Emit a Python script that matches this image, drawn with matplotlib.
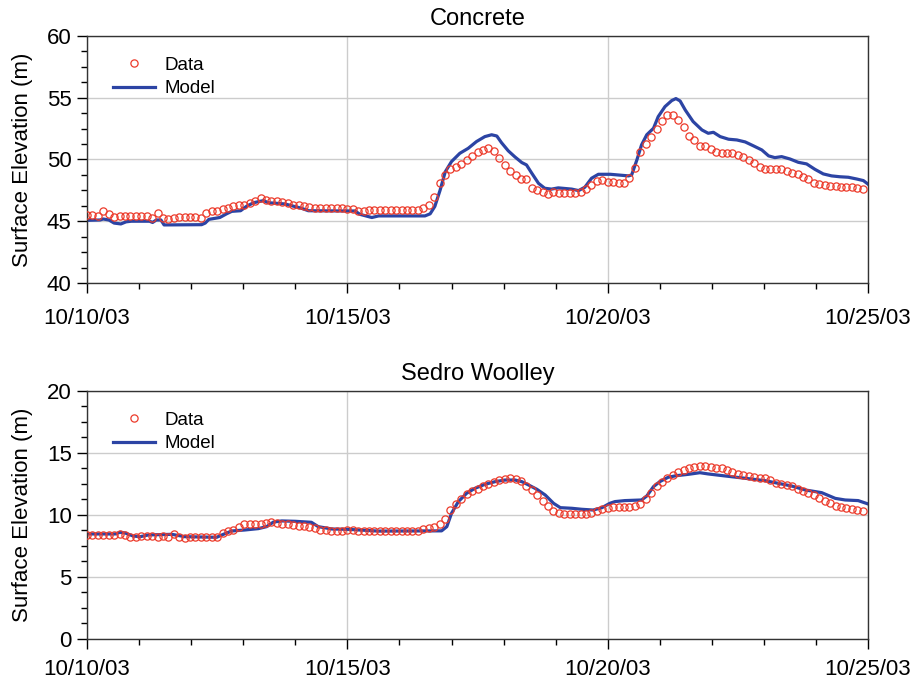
import numpy as np
import pandas as pd
import matplotlib
matplotlib.use("Agg")
import matplotlib.pyplot as plt
import matplotlib.dates as mdates
from matplotlib.ticker import MultipleLocator

plt.rcParams["font.family"] = ["Liberation Sans", "DejaVu Sans"]

# observed stage, one reading every 2.5 hours from 10/10/03 00:00
concrete_data = [
    45.5, 45.5, 45.45, 45.8, 45.55, 45.35, 45.4, 45.45, 45.45, 45.45,
    45.4, 45.4, 45.3, 45.7, 45.3, 45.2, 45.3, 45.35, 45.35, 45.35,
    45.35, 45.3, 45.7, 45.8, 45.85, 45.95, 46.1, 46.25, 46.3, 46.3,
    46.45, 46.6, 46.85, 46.7, 46.65, 46.65, 46.55, 46.45, 46.35, 46.3,
    46.25, 46.15, 46.1, 46.1, 46.1, 46.1, 46.1, 46.05, 46.0, 46.0,
    45.86, 45.86, 45.9, 45.94, 45.94, 45.94, 45.94, 45.94, 45.94, 45.94,
    45.94, 45.94, 46.05, 46.35, 46.94, 48.07, 48.75, 49.2, 49.4, 49.6,
    49.96, 50.3, 50.6, 50.8, 50.9, 50.7, 50.15, 49.56, 49.1, 48.75,
    48.4, 48.4, 47.7, 47.53, 47.37, 47.2, 47.35, 47.3, 47.3, 47.3,
    47.3, 47.4, 47.6, 47.9, 48.26, 48.34, 48.2, 48.15, 48.07, 48.1,
    48.5, 49.3, 50.64, 51.23, 51.85, 52.45, 53.15, 53.6, 53.63, 53.2,
    52.6, 51.93, 51.58, 51.07, 51.07, 50.85, 50.64, 50.5, 50.55, 50.5,
    50.37, 50.18, 49.96, 49.69, 49.37, 49.2, 49.2, 49.26, 49.2, 49.1,
    48.94, 48.8, 48.56, 48.4, 48.13, 48.02, 47.94, 47.88, 47.83, 47.8,
    47.8, 47.78, 47.7, 47.6,
]

sedro_data = [
    8.36, 8.36, 8.36, 8.36, 8.36, 8.36, 8.45, 8.38, 8.25, 8.25,
    8.28, 8.3, 8.3, 8.25, 8.28, 8.25, 8.45, 8.25, 8.12, 8.22,
    8.25, 8.25, 8.25, 8.25, 8.25, 8.57, 8.68, 8.79, 9.05, 9.25,
    9.27, 9.25, 9.28, 9.33, 9.41, 9.35, 9.3, 9.25, 9.2, 9.15,
    9.1, 9.05, 8.95, 8.82, 8.75, 8.74, 8.74, 8.74, 8.79, 8.75,
    8.72, 8.7, 8.7, 8.7, 8.7, 8.7, 8.7, 8.71, 8.71, 8.72,
    8.72, 8.74, 8.84, 8.95, 9.06, 9.3, 9.7, 10.4, 10.9, 11.3,
    11.7, 11.9, 12.1, 12.3, 12.5, 12.65, 12.8, 12.93, 12.96, 12.92,
    12.75, 12.3, 12.0, 11.6, 11.1, 10.7, 10.35, 10.12, 10.08, 10.08,
    10.08, 10.08, 10.1, 10.2, 10.35, 10.5, 10.58, 10.67, 10.67, 10.67,
    10.67, 10.72, 10.85, 11.25, 11.8, 12.35, 12.65, 12.95, 13.2, 13.45,
    13.62, 13.76, 13.86, 13.95, 13.93, 13.88, 13.82, 13.75, 13.6, 13.45,
    13.34, 13.24, 13.15, 13.1, 13.02, 12.95, 12.8, 12.6, 12.5, 12.4,
    12.3, 12.1, 11.9, 11.78, 11.63, 11.4, 11.15, 10.95, 10.75, 10.65,
    10.55, 10.45, 10.38, 10.33,
]

# model output (days since 10/10/03, stage)
concrete_model_day = [
    0.0, 0.25, 0.31, 0.42, 0.52, 0.65, 0.75, 0.85, 1.2, 1.26,
    1.33, 1.42, 1.48, 2.2, 2.27, 2.34, 2.55, 2.68, 2.78, 2.95,
    3.06, 3.2, 3.39, 3.48, 3.8, 3.98, 4.12, 4.25, 4.95, 5.15,
    5.24, 5.47, 5.6, 6.49, 6.59, 6.68, 6.78, 6.88, 7.0, 7.16,
    7.32, 7.48, 7.64, 7.77, 7.87, 7.96, 8.09, 8.22, 8.35, 8.44,
    8.54, 8.67, 8.79, 8.92, 9.05, 9.31, 9.44, 9.56, 9.69, 9.82,
    10.05, 10.4, 10.46, 10.56, 10.65, 10.75, 10.88, 10.97, 11.1, 11.23,
    11.31, 11.39, 11.49, 11.64, 11.81, 11.93, 12.03, 12.16, 12.32, 12.48,
    12.64, 12.8, 12.96, 13.09, 13.21, 13.34, 13.5, 13.66, 13.82, 13.98,
    14.14, 14.3, 14.46, 14.62, 14.78, 14.91, 15.0,
]
concrete_model = [
    45.07, 45.1, 45.18, 45.1, 44.85, 44.78, 44.95, 45.0, 45.0, 44.9,
    45.1, 45.1, 44.7, 44.72, 44.85, 45.15, 45.3, 45.6, 45.8, 45.85,
    46.2, 46.5, 46.67, 46.5, 46.4, 46.2, 46.05, 45.85, 45.83, 45.83,
    45.56, 45.3, 45.43, 45.43, 45.6, 46.2, 47.5, 49.0, 49.83, 50.5,
    50.9, 51.45, 51.85, 52.0, 51.9, 51.36, 50.7, 50.2, 49.75, 49.56,
    48.9, 48.07, 47.67, 47.6, 47.7, 47.6, 47.48, 47.75, 48.48, 48.8,
    48.8, 48.67, 48.75, 49.96, 51.18, 52.0, 52.53, 53.47, 54.28, 54.77,
    54.93, 54.74, 54.0, 53.07, 52.39, 52.12, 52.2, 51.85, 51.64, 51.58,
    51.42, 51.1, 50.77, 50.29, 50.15, 50.23, 50.04, 49.77, 49.64, 49.2,
    48.83, 48.67, 48.6, 48.56, 48.42, 48.29, 48.0,
]

sedro_model_day = [
    0.0, 0.54, 0.63, 0.73, 0.89, 1.02, 1.18, 1.63, 1.88, 2.49,
    2.59, 2.78, 3.03, 3.29, 3.45, 3.58, 3.74, 4.0, 4.31, 4.44,
    4.7, 5.02, 5.6, 6.81, 6.91, 7.0, 7.13, 7.29, 7.45, 7.64,
    7.84, 8.03, 8.22, 8.35, 8.48, 8.64, 8.8, 8.96, 9.09, 9.31,
    9.5, 9.72, 9.89, 10.04, 10.14, 10.33, 10.65, 10.75, 10.88, 11.0,
    11.16, 11.32, 11.55, 11.77, 11.93, 12.25, 12.64, 13.02, 13.28, 13.53,
    13.79, 14.11, 14.37, 14.56, 14.81, 15.0,
]
sedro_model = [
    8.47, 8.47, 8.6, 8.55, 8.3, 8.25, 8.39, 8.44, 8.25, 8.2,
    8.39, 8.71, 8.79, 8.9, 9.06, 9.43, 9.52, 9.49, 9.41, 9.06,
    8.87, 8.84, 8.7, 8.72, 9.06, 10.13, 11.07, 11.75, 12.15, 12.47,
    12.69, 12.82, 12.82, 12.69, 12.42, 12.07, 11.61, 10.94, 10.59, 10.54,
    10.46, 10.4, 10.59, 10.94, 11.08, 11.16, 11.21, 11.53, 12.29, 12.69,
    13.04, 13.17, 13.28, 13.41, 13.31, 13.15, 12.96, 12.77, 12.55, 12.34,
    12.02, 11.8, 11.34, 11.21, 11.16, 10.89,
]

station_names = ["Concrete", "Sedro Woolley"]
y_limits = [(40, 60), (0, 20)]

start = pd.Timestamp("2003-10-10")
end = pd.Timestamp("2003-10-25")
obs_time = pd.date_range(start, periods=len(concrete_data), freq="150min")

red = "#ec3b2b"
blue = "#2c44a4"

fig = plt.figure(figsize=(9.15, 6.85), dpi=100)
ax_top = fig.add_axes([0.0951, 0.5869, 0.8536, 0.3606])
ax_bot = fig.add_axes([0.0951, 0.0672, 0.8536, 0.3620])

panels = [
    (ax_top, concrete_data, concrete_model_day, concrete_model, 11),
    (ax_bot, sedro_data, sedro_model_day, sedro_model, 7.5),
]

for i, (ax, obs, mday, mval, xpad) in enumerate(panels):
    mtime = start + pd.to_timedelta(mday, unit="D")
    ax.plot(obs_time, obs, "o", ms=5.2, mfc="none", mec=red, mew=0.9,
            label="Data", zorder=3)
    ax.plot(mtime, mval, "-", color=blue, lw=2.3, label="Model", zorder=2)

    ax.set_xlim(start, end)
    ax.set_ylim(*y_limits[i])
    ax.xaxis.set_major_locator(mdates.DayLocator(bymonthday=[10, 15, 20, 25]))
    ax.xaxis.set_minor_locator(mdates.DayLocator())
    ax.xaxis.set_major_formatter(mdates.DateFormatter("%m/%d/%y"))
    ax.yaxis.set_major_locator(MultipleLocator(5))
    ax.yaxis.set_minor_locator(MultipleLocator(1.25))

    ax.grid(True, which="major", color="#cccccc", lw=1)
    ax.set_axisbelow(True)
    ax.tick_params(which="major", length=7, width=1, labelsize=16, pad=4)
    ax.tick_params(axis="x", which="major", pad=xpad)
    ax.tick_params(which="minor", length=4, width=1)
    for s in ax.spines.values():
        s.set_color("#333333")
        s.set_linewidth(1)

    ax.set_title(station_names[i], fontsize=17, pad=8)
    ax.set_ylabel("Surface Elevation (m)", fontsize=16, labelpad=10)
    ax.legend(loc="upper left", bbox_to_anchor=(0.012, 0.985), frameon=False,
              fontsize=13.5, handlelength=2.2, handletextpad=0.55,
              labelspacing=0.35)

fig.savefig("out.png", dpi=100)
